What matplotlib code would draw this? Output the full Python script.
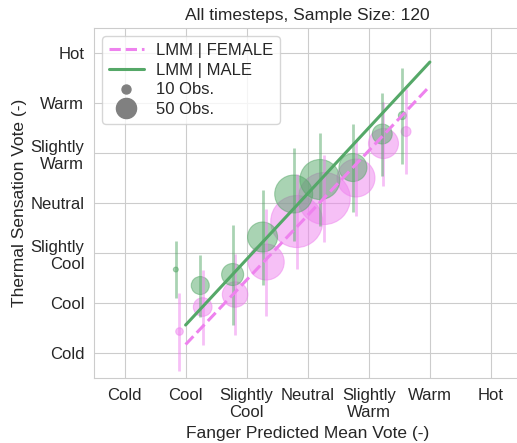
"""
PMV vs thermal sensation vote, split by gender, bubble size = number of obs.
"""
import matplotlib
matplotlib.use("Agg")
import matplotlib.pyplot as plt
from matplotlib.lines import Line2D
import seaborn as sns

sns.set_style("whitegrid")
plt.rcParams['font.family'] = ['Liberation Sans', 'DejaVu Sans']

scale_labels = ['Cold', 'Cool', 'Slightly\nCool', 'Neutral', 'Slightly\nWarm', 'Warm', 'Hot']
scale_values = [-3, -2, -1, 0, 1, 2, 3]

# binned means (x = PMV, y = TSV), std of TSV and count per bin
male_pmv = [-2.16, -1.76, -1.23, -0.74, -0.23, 0.20, 0.74, 1.22, 1.55]
male_tsv = [-1.33, -1.65, -1.43, -0.68, 0.18, 0.47, 0.71, 1.38, 1.75]
male_std = [0.57, 0.62, 1.00, 0.95, 0.93, 0.93, 0.88, 0.83, 0.96]
male_obs = [3, 40, 60, 111, 178, 198, 97, 49, 8]

female_pmv = [-2.10, -1.72, -1.19, -0.68, -0.18, 0.27, 0.79, 1.24, 1.61]
female_tsv = [-2.57, -2.08, -1.83, -1.18, -0.37, 0.09, 0.50, 1.19, 1.43]
female_std = [0.78, 0.75, 0.81, 1.07, 0.95, 0.87, 0.75, 0.84, 0.85]
female_obs = [7, 43, 80, 160, 334, 334, 178, 111, 12]

# LMM fit endpoints
lmm_x = [-2.0, 2.0]
lmm_male = [-2.44, 2.82]
lmm_female = [-2.83, 2.34]

green = '#55a868'
pink = 'violet'
size_per_obs = 4.2

fig = plt.figure(figsize=(5.17, 4.43), dpi=100)
ax = fig.add_axes([0.1818, 0.1467, 0.8269, 0.79])

ax.scatter(female_pmv, female_tsv, s=[size_per_obs * n for n in female_obs],
           color=pink, alpha=0.5, edgecolor=pink, linewidth=0.8, zorder=2)
ax.scatter(male_pmv, male_tsv, s=[size_per_obs * n for n in male_obs],
           color=green, alpha=0.5, edgecolor=green, linewidth=0.8, zorder=3)
ax.errorbar(female_pmv, female_tsv, yerr=female_std, fmt='none',
            ecolor=pink, alpha=0.5, elinewidth=2, zorder=4)
ax.errorbar(male_pmv, male_tsv, yerr=male_std, fmt='none',
            ecolor=green, alpha=0.5, elinewidth=2, zorder=4)
ax.plot(lmm_x, lmm_female, color=pink, linestyle='--', linewidth=2.2, zorder=5)
ax.plot(lmm_x, lmm_male, color=green, linestyle='-', linewidth=2.2, zorder=6)

ax.set_xlim(-3.5, 3.5)
ax.set_ylim(-3.5, 3.5)
ax.set_xticks(scale_values)
ax.set_xticklabels(scale_labels, fontsize=12)
ax.set_yticks(scale_values)
ax.set_yticklabels(scale_labels, fontsize=12)
for lbl in ax.get_yticklabels():
    lbl.set_multialignment('right')
ax.set_xlabel('Fanger Predicted Mean Vote (-)', fontsize=12.5)
ax.set_ylabel('Thermal Sensation Vote (-)', fontsize=12.5, labelpad=2)
ax.set_title('All timesteps, Sample Size: 120', fontsize=12.5)

handles = [
    Line2D([], [], color=pink, linestyle='--', linewidth=2.2),
    Line2D([], [], color=green, linestyle='-', linewidth=2.2),
    Line2D([], [], color='gray', marker='o', linestyle='none', markersize=(size_per_obs * 10) ** 0.5),
    Line2D([], [], color='gray', marker='o', linestyle='none', markersize=(size_per_obs * 50) ** 0.5),
]
ax.legend(handles, ['LMM | FEMALE', 'LMM | MALE', '10 Obs.', '50 Obs.'],
          loc='upper left', fontsize=12, handlelength=2.1, handletextpad=0.7,
          labelspacing=0.28, borderpad=0.4, frameon=True)

fig.savefig('out.png', dpi=100)
